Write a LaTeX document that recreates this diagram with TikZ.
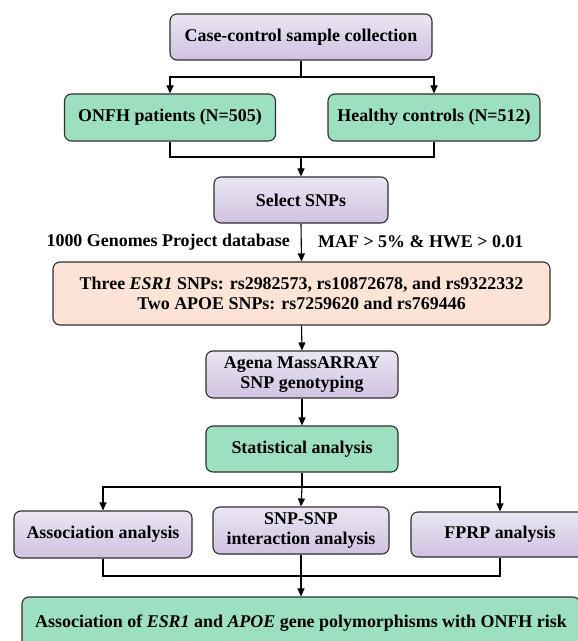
\documentclass[tikz,border=0pt]{standalone}
\usepackage{fontspec}
\setmainfont{Liberation Serif}[BoldFont={Liberation Serif Bold},ItalicFont={Liberation Serif Italic},BoldItalicFont={Liberation Serif Bold Italic}]
\usetikzlibrary{arrows.meta}
\definecolor{linec}{HTML}{2E2E2E}
\definecolor{ptop}{HTML}{EBE6F2}
\definecolor{pbot}{HTML}{D0C1E2}
\definecolor{gfill}{HTML}{9DE0BF}
\definecolor{ofill}{HTML}{FBE4D6}
\begin{document}
\begin{tikzpicture}[x=1bp,y=-1bp,
  box/.style={draw=linec, line width=1.1bp, rounded corners=7bp, align=center,
    inner sep=0pt, font=\bfseries\fontsize{18}{20.5}\selectfont},
  pbox/.style={box, top color=ptop, bottom color=pbot},
  gbox/.style={box, fill=gfill},
  obox/.style={box, fill=ofill},
  conn/.style={draw=black, line width=1.1bp},
  arr/.style={conn, -{Triangle[length=8bp,width=7bp]}},
  lbl/.style={inner sep=0pt, font=\bfseries\fontsize{18}{20.5}\selectfont}
]
\useasboundingbox (0,0) rectangle (578,641);
\clip (0,0) rectangle (578,641);

\node[pbox, minimum width=262bp, minimum height=46bp] (case) at (301,37) {Case-control sample collection};
\node[gbox, minimum width=211bp, minimum height=47bp] (onfh) at (170,117.5) {ONFH patients (N=505)};
\node[gbox, minimum width=212bp, minimum height=47bp] (healthy) at (434,117.5) {Healthy controls (N=512)};
\node[pbox, minimum width=174bp, minimum height=46bp] (select) at (301,200) {Select SNPs};
\node[obox, minimum width=497bp, minimum height=63bp] (snps) at (301.5,293.5) {Three \textit{ESR1} SNPs: rs2982573, rs10872678, and rs9322332\\Two APOE SNPs: rs7259620 and rs769446};
\node[pbox, minimum width=192bp, minimum height=47bp] (agena) at (302,374.5) {Agena MassARRAY\\SNP genotyping};
\node[gbox, minimum width=192bp, minimum height=46bp] (stat) at (302,449) {Statistical analysis};
\node[pbox, minimum width=178bp, minimum height=47bp] (assoc) at (103,534.5) {Association analysis};
\node[pbox, minimum width=176bp, minimum height=47bp] (inter) at (301,530.5) {SNP-SNP\\interaction analysis};
\node[pbox, minimum width=178bp, minimum height=45bp] (fprp) at (500,534.5) {FPRP analysis};
\node[gbox, minimum width=558bp, minimum height=52bp] (final) at (301,623) {Association of \textit{ESR1} and \textit{APOE} gene polymorphisms with ONFH risk};

\node[lbl, anchor=east] (db) at (290,242) {1000 Genomes Project database};
\node[lbl, anchor=west] (maf) at (318,242) {MAF > 5\% \& HWE > 0.01};

\coordinate (s1) at (301,77);
\coordinate (m1) at (301,157);
\coordinate (s2) at (302,487);
\coordinate (m2) at (301,576);

\draw[conn] (case.south) -- (s1);
\draw[arr] (s1) -| (onfh.north);
\draw[arr] (s1) -| (healthy.north);
\draw[conn] (onfh.south) |- (m1) -| (healthy.south);
\draw[arr] (m1) -- (select.north);
\draw[arr] (select.south) -- (snps.north);
\draw[arr] (snps.south) -- (agena.north);
\draw[arr] (agena.south) -- (stat.north);
\draw[conn] (stat.south) -- (s2);
\draw[arr] (s2) -| (assoc.north);
\draw[arr] (s2) -| (fprp.north);
\draw[arr] (s2) -- (inter.north);
\draw[conn] (assoc.south) |- (m2) -| (fprp.south);
\draw[arr] (inter.south) -- (final.north);
\end{tikzpicture}
\end{document}
